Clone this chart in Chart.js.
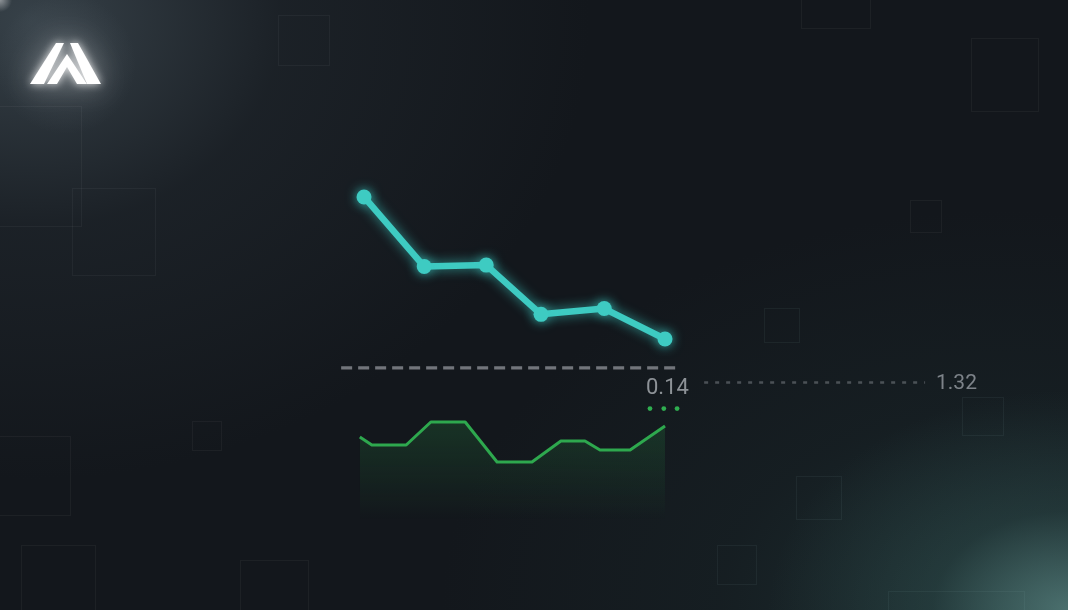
<!DOCTYPE html>
<html>
<head>
<meta charset="utf-8">
<script src="https://cdn.jsdelivr.net/npm/chart.js@4.4.1/dist/chart.umd.min.js"></script>
<style>
  html, body { margin:0; padding:0; }
  body { width:1068px; height:610px; overflow:hidden; position:relative; background:#13171c; font-family: Roboto, "Noto Sans", sans-serif; }
  .bg {
    position:absolute; inset:0;
    background:
      radial-gradient(circle at 0px 0px, rgba(255,255,255,0.45) 0px, rgba(255,255,255,0) 12px),
      radial-gradient(circle at 66px 64px, rgba(120,130,138,0.25) 0px, rgba(90,100,108,0) 70px),
      radial-gradient(ellipse 560px 460px at 30px 20px, rgba(64,76,84,0.8) 0%, rgba(40,48,55,0.4) 45%, rgba(19,23,28,0) 100%),
      radial-gradient(ellipse 300px 220px at 1068px 610px, rgba(100,148,144,0.65) 0%, rgba(55,92,90,0.3) 45%, rgba(30,52,54,0) 100%),
      radial-gradient(ellipse 560px 400px at 1000px 610px, rgba(38,68,68,0.55) 0%, rgba(28,46,48,0.3) 50%, rgba(19,23,28,0) 100%),
      #13171c;
  }
  .sq { position:absolute; border:1.5px solid rgba(255,255,255,0.045); box-sizing:border-box; }
  .sq.t { border-color: rgba(150,200,195,0.07); }
  #logo { position:absolute; left:0; top:0; filter: drop-shadow(0 0 4px rgba(255,255,255,0.85)) drop-shadow(0 0 14px rgba(255,255,255,0.4)); }
  #chart { position:absolute; left:0; top:0; }
  .lbl { position:absolute; line-height:1; font-weight:400; white-space:nowrap; }
</style>
</head>
<body>
<div class="bg"></div>

<div class="sq" style="left:278px;top:15px;width:52px;height:51px"></div>
<div class="sq" style="left:-2px;top:106px;width:84px;height:121px"></div>
<div class="sq" style="left:72px;top:188px;width:84px;height:88px"></div>
<div class="sq" style="left:801px;top:-2px;width:70px;height:31px"></div>
<div class="sq" style="left:971px;top:38px;width:68px;height:74px"></div>
<div class="sq" style="left:910px;top:200px;width:32px;height:33px"></div>
<div class="sq" style="left:-2px;top:436px;width:73px;height:80px"></div>
<div class="sq" style="left:192px;top:421px;width:30px;height:30px"></div>
<div class="sq" style="left:21px;top:545px;width:75px;height:70px"></div>
<div class="sq" style="left:240px;top:560px;width:69px;height:55px"></div>
<div class="sq t" style="left:764px;top:308px;width:36px;height:35px"></div>
<div class="sq t" style="left:962px;top:397px;width:42px;height:39px"></div>
<div class="sq t" style="left:796px;top:476px;width:46px;height:44px"></div>
<div class="sq t" style="left:717px;top:545px;width:40px;height:40px"></div>
<div class="sq t" style="left:888px;top:591px;width:137px;height:25px"></div>

<svg id="logo" width="130" height="110" viewBox="0 0 130 110">
  <polygon fill="#ffffff" points="56,43 64,43 44,84 30,84"/>
  <polygon fill="#ffffff" points="67,54 87,84 77,84 67,67 57,84 47,84"/>
  <polygon fill="#ffffff" points="70,43 78,43 101,84 87,84"/>
</svg>

<canvas id="chart" width="1068" height="610"></canvas>

<div class="lbl" id="lblBase" style="left:646px;top:375.5px;font-size:22px;color:#8d9297"></div>
<div class="lbl" id="lblRef" style="left:936px;top:371.5px;font-size:21px;color:#7d8389"></div>

<script>
// ---------------------------
// Data
// ---------------------------
const tealX  = [0, 1, 2.03, 2.94, 3.99, 5];
const tealY  = [1.32, 0.84, 0.85, 0.51, 0.55, 0.34];

const greenX = [-0.07, 0.13, 0.70, 1.11, 1.68, 2.21, 2.79, 3.27, 3.67, 3.92, 4.42, 5];
const greenY = [41.5, 37.5, 37.5, 49, 49, 29, 29, 39.5, 39.5, 35, 35, 47];

const baseLevel = 0.14;
const refLevel  = 1.32;
const baseSpan  = [-0.38, 5.23];   // dashed line
const rangeSpan = [5.65, 9.32];    // dotted line to the ref label
const rangeLevel = 0.04;
const dotsX = [4.75, 4.98, 5.2];
const dotsLevel = -0.14;

const labelBase = baseLevel.toFixed(2);
const labelRef  = refLevel.toFixed(2);

// ---------------------------
// Glow plugin
// ---------------------------
const glowPlugin = {
  id: "glow",
  beforeDatasetDraw(chart, args){
    const ds = chart.data.datasets[args.index];
    if(!ds.glow) return;
    chart.ctx.save();
    chart.ctx.shadowColor = ds.glow;
    chart.ctx.shadowBlur = 12;
  },
  afterDatasetDraw(chart, args){
    if(chart.data.datasets[args.index].glow) chart.ctx.restore();
  }
};

const pts = (xs, ys) => xs.map((x, i)=>({ x, y: Array.isArray(ys) ? ys[i] : ys }));

function greenFill(ctx){
  const chart = ctx.chart;
  if(!chart.chartArea) return "rgba(46,168,78,0.1)";
  const y2 = chart.scales.y2;
  const g = chart.ctx.createLinearGradient(0, y2.getPixelForValue(50), 0, y2.getPixelForValue(0));
  g.addColorStop(0, "rgba(46,168,78,0.2)");
  g.addColorStop(0.6, "rgba(46,168,78,0.08)");
  g.addColorStop(1, "rgba(46,168,78,0)");
  return g;
}

// ---------------------------
// Chart
// ---------------------------
new Chart(document.getElementById("chart"), {
  type: "line",
  data: {
    datasets: [
      {
        data: pts(tealX, tealY),
        borderColor: "#3ecbc2",
        backgroundColor: "#3ecbc2",
        borderWidth: 6.5,
        pointRadius: 7.5,
        pointBorderWidth: 0,
        borderCapStyle: "round",
        borderJoinStyle: "round",
        glow: "rgba(60,200,192,0.75)",
        yAxisID: "y"
      },
      {
        data: pts(greenX, greenY),
        borderColor: "#2ea84e",
        borderWidth: 3,
        pointRadius: 0,
        fill: "origin",
        backgroundColor: greenFill,
        borderJoinStyle: "round",
        yAxisID: "y2"
      },
      {
        data: pts(baseSpan, baseLevel),
        borderColor: "#72757b",
        borderWidth: 3.2,
        borderDash: [11, 6],
        pointRadius: 0,
        yAxisID: "y"
      },
      {
        data: pts(rangeSpan, rangeLevel),
        borderColor: "rgba(120,126,132,0.55)",
        borderWidth: 2.5,
        borderDash: [4, 7],
        pointRadius: 0,
        yAxisID: "y"
      },
      {
        data: pts(dotsX, dotsLevel),
        showLine: false,
        pointRadius: 2.4,
        pointBorderWidth: 0,
        backgroundColor: "#2fae50",
        yAxisID: "y"
      }
    ]
  },
  options: {
    responsive: false,
    animation: false,
    layout: { padding: 0, autoPadding: false },
    plugins: { legend: { display: false }, tooltip: { enabled: false } },
    scales: {
      x:  { type: "linear", display: false, min: -6.047, max: 11.694 },
      y:  { display: false, min: -1.530, max: 2.679 },
      y2: { display: false, min: -45, max: 260 }
    }
  },
  plugins: [glowPlugin]
});

document.getElementById("lblBase").textContent = labelBase;
document.getElementById("lblRef").textContent = labelRef;
</script>
</body>
</html>
